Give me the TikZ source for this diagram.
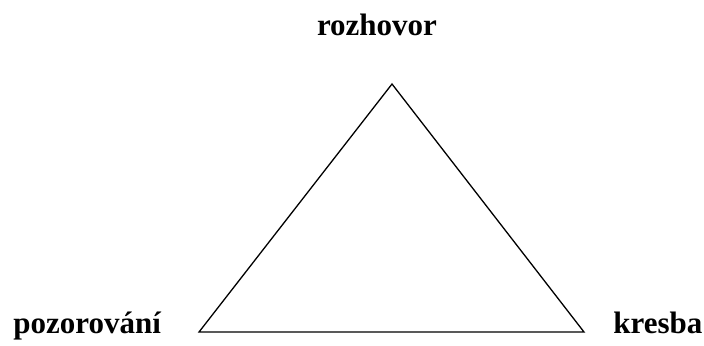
\documentclass[tikz,border=0pt]{standalone}
\usepackage{fontspec}
\setmainfont{Liberation Serif}
\begin{document}
\begin{tikzpicture}[x=0.5pt,y=-0.5pt,
  lbl/.style={inner sep=0pt,font=\fontsize{15.5pt}{18pt}\selectfont\bfseries},
  edge/.style={draw,line width=0.65pt,line join=miter}]
\useasboundingbox[fill=white] (0,0) rectangle (704,345);
\coordinate (top) at (392,84);
\coordinate (left) at (199,332);
\coordinate (right) at (584,332);
\draw[edge] (top) -- (left) -- (right) -- cycle;
\node[lbl,anchor=base] (rozhovor) at (377,35) {rozhovor};
\node[lbl,anchor=base west] (pozorovani) at (13,333) {pozorování};
\node[lbl,anchor=base west] (kresba) at (613,333) {kresba};
\end{tikzpicture}
\end{document}
